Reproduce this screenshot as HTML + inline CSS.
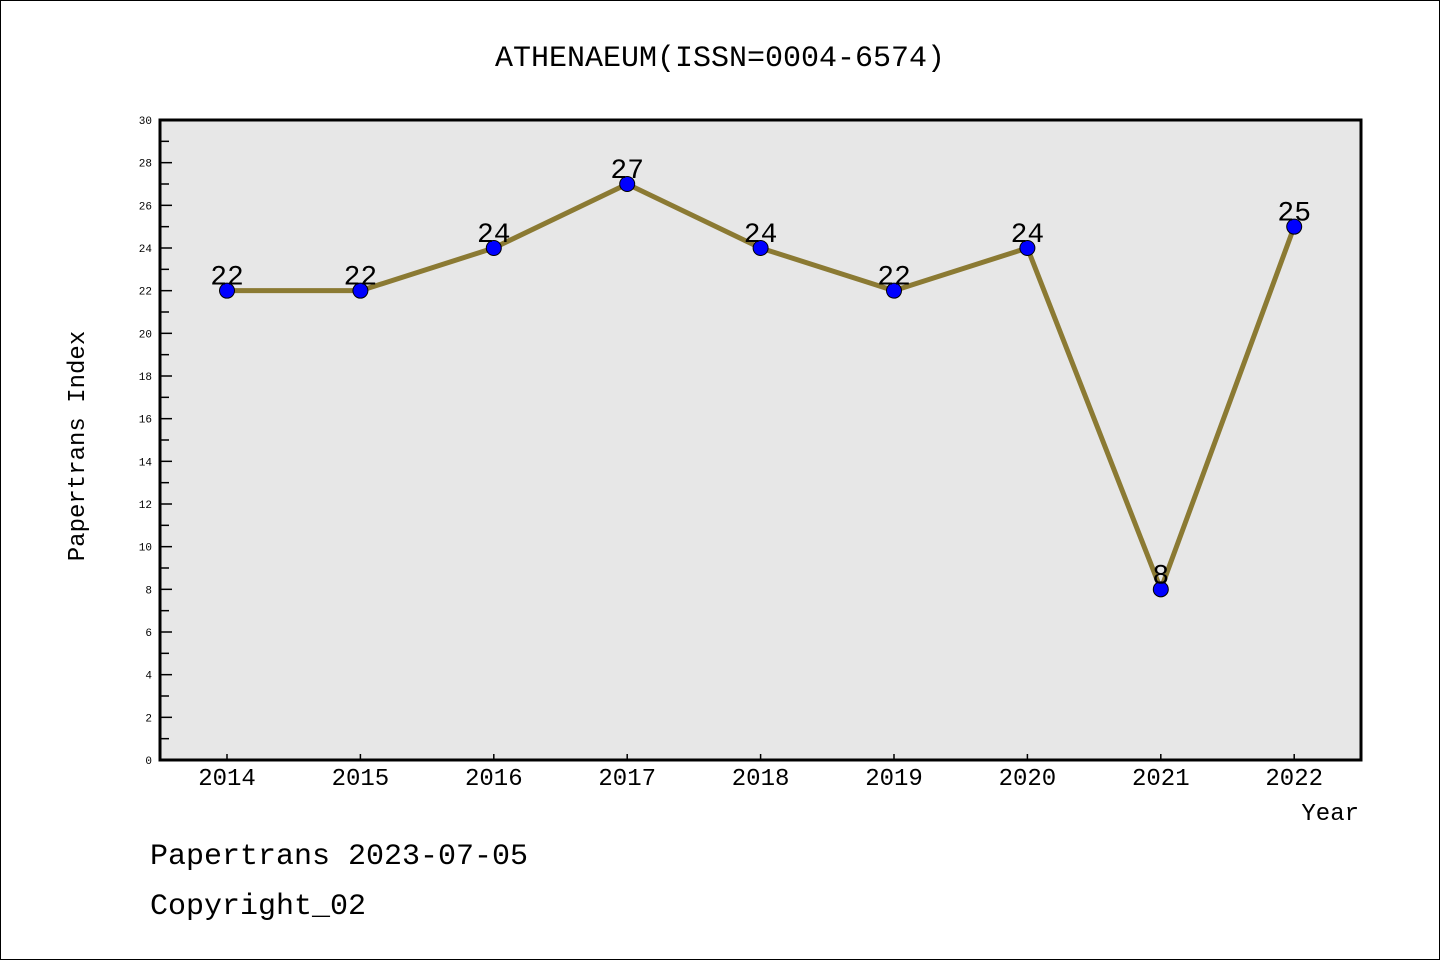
<!DOCTYPE html>
<html><head><meta charset="utf-8"><style>
html,body{margin:0;padding:0;background:#fff;}
svg{display:block;font-family:"WenQuanYi Zen Hei","Liberation Mono","DejaVu Sans Mono",monospace;}
</style></head><body>
<svg id="chart" width="1440" height="960" viewBox="0 0 1440 960">
<rect x="0.5" y="0.5" width="1439" height="959" fill="#fff" stroke="#000"/>
<text x="720" y="66" font-size="30" text-anchor="middle">ATHENAEUM(ISSN=0004-6574)</text>
<rect x="160" y="120" width="1201" height="640" fill="#e7e7e7"/>
<g id="yticks"></g>
<g id="xticks"></g>
<polyline id="line" fill="none" stroke="#8b7a33" stroke-width="5" stroke-linejoin="round"/>
<g id="pts"></g>
<rect x="160" y="120" width="1201" height="640" fill="none" stroke="#000" stroke-width="3"/>
<text x="0" y="0" font-size="24" text-anchor="middle" transform="translate(84,446) rotate(-90)">Papertrans Index</text>
<text x="1359" y="820" font-size="24" text-anchor="end">Year</text>
<text x="150" y="864" font-size="30">Papertrans 2023-07-05</text>
<text x="150" y="914" font-size="30">Copyright_02</text>
</svg>
<script>
const categories = ["2014","2015","2016","2017","2018","2019","2020","2021","2022"];
const values = [22,22,24,27,24,22,24,8,25];
const yTickLabels = ["0","2","4","6","8","10","12","14","16","18","20","22","24","26","28","30"];
const NS="http://www.w3.org/2000/svg";
function xs(i){return 227+i*133.4;}
function ys(v){return 760-v*(640/30);}
function mk(tag,attrs,parent,text){const e=document.createElementNS(NS,tag);for(const k in attrs)e.setAttribute(k,attrs[k]);if(text!==undefined)e.textContent=text;parent.appendChild(e);return e;}
const yg=document.getElementById('yticks');
yTickLabels.forEach((t,i)=>{const v=+t;const y=ys(v);
 const l=mk('line',{x1:160,x2:172,y1:y,y2:y,stroke:'#000','stroke-width':1.5},yg);
 
 
 const tx=mk('text',{x:152,y:y+4,'font-size':11,'text-anchor':'end'},yg,t);
 
 
 if(i<yTickLabels.length-1){const ym=ys(v+1);
  const m=mk('line',{x1:160,x2:169,y1:ym,y2:ym,stroke:'#000','stroke-width':1.5},yg);
  
  }
});
const xg=document.getElementById('xticks');
categories.forEach((c,i)=>{const x=xs(i);
 const l=mk('line',{x1:x,x2:x,y1:754,y2:760,stroke:'#000','stroke-width':1.5},xg);
 
 
 const t=mk('text',{x:x,y:785,'font-size':24,'text-anchor':'middle'},xg,c);
 
 
});
document.getElementById('line').setAttribute('points',values.map((v,i)=>xs(i)+','+ys(v)).join(' '));
const pg=document.getElementById('pts');
values.forEach((v,i)=>{
 const c=mk('circle',{cx:xs(i),cy:ys(v),r:7.5,fill:'#0000ff',stroke:'#000','stroke-width':1},pg);
 
 
 const t=mk('text',{x:xs(i),y:ys(v)-6,'font-size':28,'text-anchor':'middle'},pg,String(v));
 
 
});
</script>
</body></html>
